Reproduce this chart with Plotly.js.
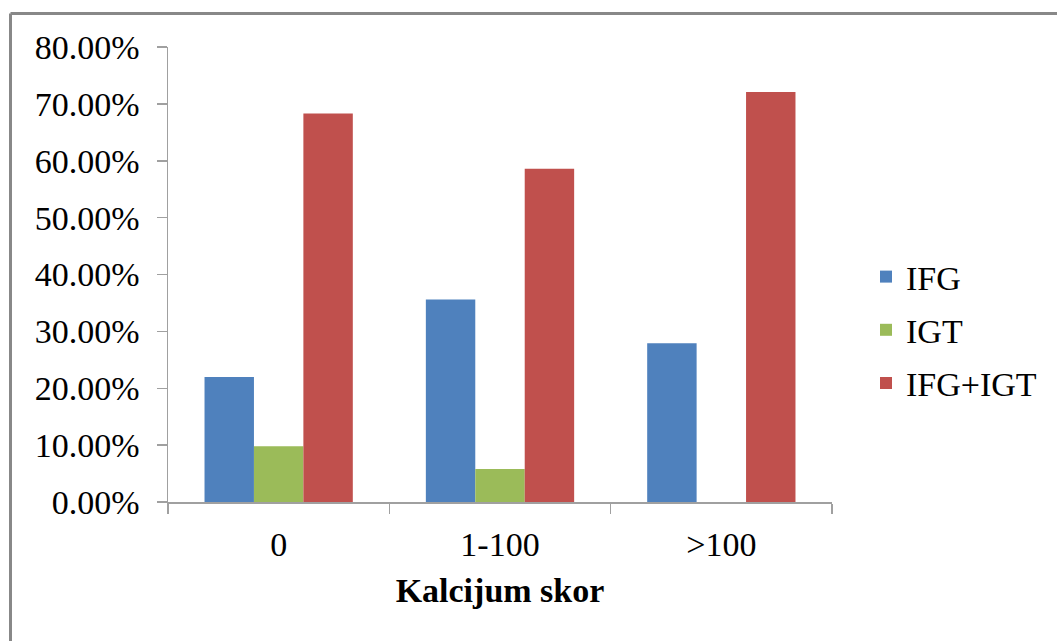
<!DOCTYPE html>
<html>
<head>
<meta charset="utf-8">
<script src="https://cdn.plot.ly/plotly-3.0.1.min.js"></script>
<style>
html,body{margin:0;padding:0;background:#fff;}
#chart{width:1057px;height:641px;}
</style>
</head>
<body>
<div id="chart"></div>
<script>
var categories = ["0", "1-100", ">100"];
var seriesNames = ["IFG", "IGT", "IFG+IGT"];
var ifg = [0.220, 0.356, 0.279];
var igt = [0.098, 0.058, 0];
var ifgIgt = [0.683, 0.586, 0.721];
var colors = ["#4F81BD", "#9BBB59", "#C0504D"];
var yTickVals = [0, 0.1, 0.2, 0.3, 0.4, 0.5, 0.6, 0.7, 0.8];
var xTitle = "Kalcijum skor";

var font = "Liberation Serif, Times New Roman, serif";
var seriesValues = [ifg, igt, ifgIgt];
var traces = seriesValues.map(function (vals, i) {
  return {
    type: "bar",
    name: seriesNames[i],
    x: categories,
    y: vals,
    marker: {color: colors[i], line: {width: 0}},
    legendgroup: "g" + i,
    hoverinfo: "x+y+name"
  };
});

// plot area: x 168..832, y 47..502
var L = 168, R = 832, T = 47, B = 502;
function px(x) { return (x - L) / (R - L); }
function py(y) { return (B - y) / (B - T); }

var layout = {
  width: 1057, height: 641,
  margin: {l: L, r: 1057 - R, t: T, b: 641 - B, pad: 0},
  paper_bgcolor: "#ffffff",
  plot_bgcolor: "#ffffff",
  font: {family: font, size: 34, color: "#000000"},
  barmode: "group",
  bargap: 0.33,
  bargroupgap: 0,
  showlegend: true,
  legend: {
    x: px(866), xanchor: "left",
    y: py(330), yanchor: "middle",
    font: {family: font, size: 34, color: "#000000"},
    tracegroupgap: 6,
    bgcolor: "rgba(0,0,0,0)"
  },
  xaxis: {
    type: "category",
    showgrid: false,
    showline: true, linecolor: "#a0a0a0", linewidth: 1.5,
    ticks: "outside", ticklen: 10, tickcolor: "#a0a0a0", tickwidth: 1.5,
    tickson: "boundaries",
    tickfont: {family: font, size: 34, color: "#000000"},
    ticklabelstandoff: 12,
    title: {text: "<b>" + xTitle + "</b>", font: {family: font, size: 34, color: "#000000"}, standoff: 16},
    zeroline: false,
    fixedrange: true
  },
  yaxis: {
    range: [0, 0.8],
    tickvals: yTickVals,
    tickformat: ".2%",
    showgrid: false,
    showline: true, linecolor: "#a0a0a0", linewidth: 1.5,
    ticks: "outside", ticklen: 10, tickcolor: "#a0a0a0", tickwidth: 1.5,
    tickfont: {family: font, size: 34, color: "#000000"},
    ticklabelstandoff: 10,
    zeroline: false,
    fixedrange: true
  },
  shapes: [
    {type: "line", xref: "paper", yref: "paper", x0: px(10.5), x1: px(1057), y0: py(13.5), y1: py(13.5), line: {color: "#888888", width: 3}},
    {type: "line", xref: "paper", yref: "paper", x0: px(10.5), x1: px(10.5), y0: py(13.5), y1: py(641), line: {color: "#888888", width: 3}}
  ]
};

Plotly.newPlot("chart", traces, layout, {displayModeBar: false, staticPlot: true});
</script>
</body>
</html>
